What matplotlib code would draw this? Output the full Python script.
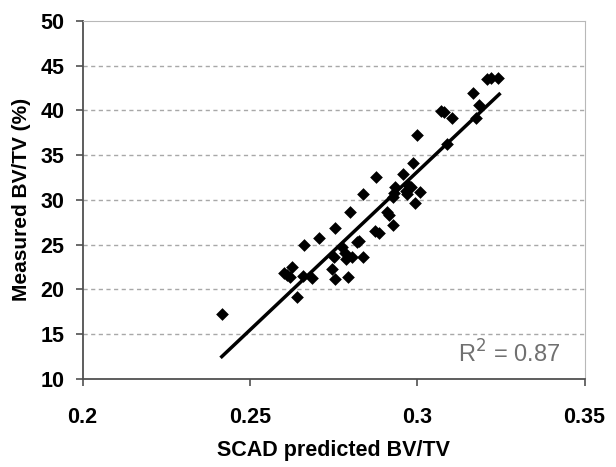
import numpy as np
import matplotlib.pyplot as plt

# SCAD predicted vs measured BV/TV
predicted = [0.2416, 0.2601, 0.2612, 0.2621, 0.2627, 0.2641, 0.2662, 0.2660, 0.2686, 0.2706,
             0.2745, 0.2751, 0.2753, 0.2753, 0.2774, 0.2784, 0.2786, 0.2792, 0.2798, 0.2804,
             0.2821, 0.2827, 0.2839, 0.2839, 0.2874, 0.2886, 0.2878, 0.2909, 0.2915, 0.2927,
             0.2927, 0.2931, 0.2933, 0.2956, 0.2965, 0.2974, 0.2980, 0.2968, 0.2988, 0.2992,
             0.2998, 0.3009, 0.3089, 0.3072, 0.3080, 0.3104, 0.3168, 0.3176, 0.3184, 0.3209,
             0.3219, 0.3241]
measured = [17.3, 21.8, 21.65, 21.4, 22.5, 19.2, 25.0, 21.5, 21.3, 25.7,
            22.3, 23.66, 26.9, 21.2, 24.7, 24.1, 23.4, 21.4, 28.6, 23.66,
            25.3, 25.4, 30.65, 23.66, 26.56, 26.3, 32.6, 28.6, 28.3, 27.2,
            30.3, 30.8, 31.4, 32.9, 31.0, 31.6, 31.4, 30.65, 34.1, 29.7,
            37.2, 30.9, 36.2, 39.95, 39.8, 39.2, 41.9, 39.1, 40.6, 43.5,
            43.6, 43.6]

fit_x = [0.2416, 0.3245]
fit_y = [12.5, 41.8]

plt.rcParams['font.family'] = ['Liberation Sans', 'DejaVu Sans']

fig = plt.figure(figsize=(6.16, 4.67), dpi=100)
ax = fig.add_axes([0.134, 0.1884, 0.815, 0.767])

for yv in range(15, 50, 5):
    ax.axhline(yv, color='#a8a8a8', linestyle=(0, (3, 2.5)), linewidth=1, zorder=0)

ax.scatter(predicted, measured, marker='D', s=42, color='black', linewidths=0, zorder=3)
ax.plot(fit_x, fit_y, color='black', linewidth=2.5, zorder=2)

ax.set_xlim(0.2, 0.35)
ax.set_ylim(10, 50)
ax.set_xticks([0.2, 0.25, 0.3, 0.35])
ax.set_xticklabels(['0.2', '0.25', '0.3', '0.35'])
ax.set_yticks(range(10, 55, 5))

ax.spines['top'].set_color('#b8b8b8')
ax.spines['right'].set_color('#b8b8b8')
ax.spines['left'].set_color('#505050')
ax.spines['bottom'].set_color('#505050')
ax.spines['left'].set_linewidth(1.3)
ax.spines['bottom'].set_linewidth(1.3)
ax.tick_params(axis='both', direction='out', length=5, width=1.2, color='#505050',
               labelsize=15.5)
ax.tick_params(axis='y', pad=8)
ax.tick_params(axis='x', pad=15)
for lab in ax.get_xticklabels() + ax.get_yticklabels():
    lab.set_fontweight('bold')

ax.set_xlabel('SCAD predicted BV/TV', fontsize=15.5, fontweight='bold', labelpad=9)
ax.set_ylabel('Measured BV/TV (%)', fontsize=15, fontweight='bold', labelpad=7)

ax.text(0.951, 0.07, 'R$^2$ = 0.87', transform=ax.transAxes, fontsize=17,
        color='#707070', ha='right', va='center')

fig.savefig('out.png', dpi=100)
